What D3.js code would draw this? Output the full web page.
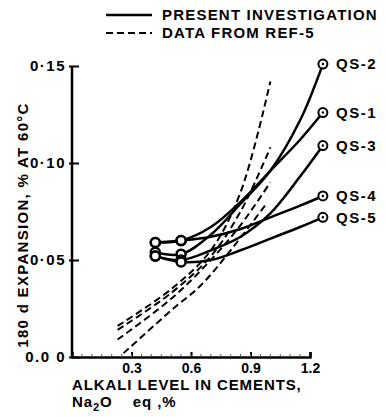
<!DOCTYPE html>
<html>
<head>
<meta charset="utf-8">
<script src="https://cdn.jsdelivr.net/npm/d3@7"></script>
<style>
  body { margin: 0; background: #fff; }
  svg { display: block; }
  text { font-family: "Liberation Sans", Arial, sans-serif; font-weight: bold; fill: #000; }
</style>
</head>
<body>
<svg id="svg1" width="387" height="417"></svg>
<script>
// alkali levels (Na2O eq, %) where the curves were read
var alkali = [0.42, 0.55, 0.70, 0.85, 1.00, 1.15, 1.265];

// 180 d expansion (%) for each quartzite sample, present investigation
var seriesNames = ["QS-2", "QS-1", "QS-3", "QS-4", "QS-5"];
var qs2 = [0.054, 0.053, 0.063, 0.079, 0.096, 0.122, 0.151];
var qs1 = [0.059, 0.060, 0.067, 0.080, 0.096, 0.112, 0.126];
var qs3 = [0.052, 0.050, 0.055, 0.062, 0.074, 0.093, 0.109];
var qs4 = [0.059, 0.060, 0.062, 0.066, 0.072, 0.078, 0.083];
var qs5 = [0.052, 0.049, 0.050, 0.055, 0.061, 0.067, 0.072];

// data from REF-5 (dashed)
var ref5x = [[0.23, 0.50, 0.70, 0.85, 1.00],
             [0.23, 0.50, 0.70, 0.85, 1.00],
             [0.23, 0.50, 0.70, 0.85, 1.00],
             [0.26, 0.50, 0.65, 0.80, 0.98]];
var ref5y = [[0.016, 0.035, 0.055, 0.085, 0.142],
             [0.014, 0.033, 0.052, 0.075, 0.108],
             [0.009, 0.030, 0.050, 0.068, 0.090],
             [0.002, 0.024, 0.037, 0.055, 0.079]];

var xTicks = [0.3, 0.6, 0.9, 1.2];
var yTicks = [0.00, 0.05, 0.10, 0.15];
var yTickLabels = ["0.0 0", "0·05", "0·10", "0·15"];

var svg = d3.select('#svg1');

var x = d3.scaleLinear().domain([0, 1.2]).range([72, 310]);
var y = d3.scaleLinear().domain([0, 0.15]).range([357, 66]);

var line = d3.line()
    .x(function(d) { return x(d[0]); })
    .y(function(d) { return y(d[1]); })
    .curve(d3.curveCatmullRom.alpha(0.5));

// axes
var xAxis = d3.axisBottom(x).tickValues(xTicks).tickSize(-5).tickFormat(d3.format('.1f'));
var gx = svg.append('g').attr('transform', 'translate(0,357)').call(xAxis);
gx.select('.domain').attr('stroke-width', 2.5);
gx.selectAll('.tick line').attr('stroke-width', 2);
gx.selectAll('.tick text').attr('dy', '0.95em').style('font-size', '14px').attr('font-family', null);

// little minor ticks along the x axis
svg.append('g').selectAll('line')
    .data(d3.range(0.05, 1.2, 0.05))
    .enter().append('line')
    .attr('x1', function(d) { return x(d); })
    .attr('x2', function(d) { return x(d); })
    .attr('y1', 357).attr('y2', 354)
    .attr('stroke', '#555').attr('stroke-width', 1);

var yAxis = d3.axisLeft(y).tickValues(yTicks).tickSize(4)
    .tickFormat(function(d, i) { return yTickLabels[i]; });
var gy = svg.append('g').attr('transform', 'translate(72,0)').call(yAxis);
gy.select('.domain').attr('stroke-width', 2.5).attr('d', 'M0,' + y(0.15) + 'V' + y(0));
gy.selectAll('.tick line').attr('x2', 7).attr('x1', -3).attr('stroke-width', 2);
gy.selectAll('.tick text').attr('x', -6).style('font-size', '15px')
    .style('letter-spacing', '1.5px').attr('font-family', null);

// axis titles
svg.append('text')
    .attr('transform', 'translate(28,225) rotate(-90)')
    .attr('text-anchor', 'middle')
    .style('font-size', '15px').style('letter-spacing', '1.3px')
    .text('180 d EXPANSION, % AT 60°C');

svg.append('text').attr('x', 72).attr('y', 390).style('font-size', '15px')
    .style('letter-spacing', '0.9px')
    .text('ALKALI LEVEL IN CEMENTS,');
var t2 = svg.append('text').attr('x', 72).attr('y', 407).style('font-size', '15px')
    .style('letter-spacing', '0.9px');
t2.append('tspan').text('Na');
t2.append('tspan').attr('dy', 4).style('font-size', '11px').text('2');
t2.append('tspan').attr('dy', -4).text('O\u00a0\u00a0\u00a0\u00a0eq\u00a0,%');

// REF-5 dashed lines
ref5x.forEach(function(xs, k) {
    var pts = xs.map(function(v, i) { return [v, ref5y[k][i]]; });
    svg.append('path')
        .attr('d', line(pts))
        .attr('fill', 'none').attr('stroke', '#000')
        .attr('stroke-width', 2).attr('stroke-dasharray', '7,4');
});

// present investigation curves
var allSeries = [qs2, qs1, qs3, qs4, qs5];
allSeries.forEach(function(vals, k) {
    var pts = alkali.map(function(v, i) { return [v, vals[i]]; });
    svg.append('path')
        .attr('d', line(pts))
        .attr('fill', 'none').attr('stroke', '#000').attr('stroke-width', 2.5);

    // measured points at 0.42 and 0.55
    [0, 1].forEach(function(i) {
        svg.append('circle')
            .attr('cx', x(alkali[i])).attr('cy', y(vals[i])).attr('r', 4.5)
            .attr('fill', '#fff').attr('stroke', '#000').attr('stroke-width', 2.5);
    });
    // end marker
    var last = alkali.length - 1;
    svg.append('circle')
        .attr('cx', x(alkali[last])).attr('cy', y(vals[last])).attr('r', 4.5)
        .attr('fill', '#fff').attr('stroke', '#000').attr('stroke-width', 2);
    svg.append('circle')
        .attr('cx', x(alkali[last])).attr('cy', y(vals[last])).attr('r', 1.2)
        .attr('fill', '#000');
    svg.append('text')
        .attr('x', 336).attr('y', y(vals[last])).attr('dy', '0.35em')
        .style('font-size', '15px').style('letter-spacing', '1.5px')
        .text(seriesNames[k]);
});

// legend
var legend = svg.append('g');
legend.append('line').attr('x1', 106).attr('x2', 152).attr('y1', 15).attr('y2', 15)
    .attr('stroke', '#000').attr('stroke-width', 2.5);
legend.append('line').attr('x1', 106).attr('x2', 152).attr('y1', 33).attr('y2', 33)
    .attr('stroke', '#000').attr('stroke-width', 2).attr('stroke-dasharray', '7,4');
legend.append('text').attr('x', 162).attr('y', 15).attr('dy', '0.35em')
    .style('font-size', '15px').style('letter-spacing', '1.2px').text('PRESENT INVESTIGATION');
legend.append('text').attr('x', 162).attr('y', 33).attr('dy', '0.35em')
    .style('font-size', '15px').style('letter-spacing', '1.2px').text('DATA FROM REF-5');
</script>
</body>
</html>
